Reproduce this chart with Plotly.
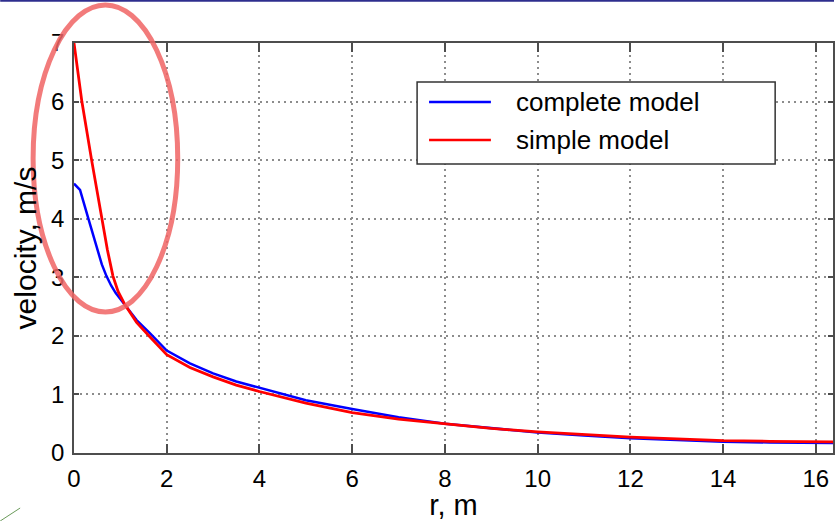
import plotly.graph_objects as go

# complete model (blue)
r_complete = [0, 0.05, 0.13, 0.31, 0.49, 0.6, 0.7, 0.8, 0.9, 1.1, 1.35, 1.63, 2, 2.5, 3, 3.5, 4, 5, 6, 7, 8, 9, 10, 11, 12, 13, 14, 15, 16, 16.4]
v_complete = [4.6, 4.56, 4.49, 4.0, 3.49, 3.22, 3.02, 2.86, 2.73, 2.53, 2.27, 2.05, 1.75, 1.53, 1.36, 1.22, 1.11, 0.9, 0.75, 0.61, 0.5, 0.42, 0.35, 0.3, 0.25, 0.22, 0.19, 0.18, 0.17, 0.17]

# simple model (red)
r_simple = [0, 0.17, 0.38, 0.6, 0.72, 0.84, 0.95, 1.1, 1.35, 1.63, 2, 2.5, 3, 3.5, 4, 5, 6, 7, 8, 9, 10, 11, 12, 13, 14, 15, 16, 16.4]
v_simple = [7.0, 6.0, 5.0, 4.0, 3.47, 3.02, 2.76, 2.53, 2.23, 1.99, 1.68, 1.46, 1.3, 1.16, 1.05, 0.85, 0.69, 0.58, 0.5, 0.42, 0.36, 0.31, 0.27, 0.24, 0.21, 0.2, 0.19, 0.19]

x_ticks = [0, 2, 4, 6, 8, 10, 12, 14, 16]
y_ticks = [0, 1, 2, 3, 4, 5, 6, 7]
legend_labels = ["complete model", "simple model"]
colors = ["#0000ff", "#ff0000"]

FONT = "Liberation Sans, Arial, sans-serif"

fig = go.Figure()
fig.add_trace(go.Scatter(x=r_complete, y=v_complete, mode="lines",
                         line=dict(color=colors[0], width=2.5),
                         name=legend_labels[0], showlegend=False))
fig.add_trace(go.Scatter(x=r_simple, y=v_simple, mode="lines",
                         line=dict(color=colors[1], width=2.8),
                         name=legend_labels[1], showlegend=False))

axis_common = dict(showline=True, mirror="ticks", linecolor="#4d4d4d", linewidth=1.5,
                   ticks="inside", tickcolor="#4d4d4d", tickwidth=1.5,
                   showgrid=True, gridcolor="#8c8c8c", griddash="2px,4px", gridwidth=1.5,
                   zeroline=False, tickfont=dict(family=FONT, size=24, color="black"),
                   ticklabelstandoff=3)

fig.update_xaxes(range=[0, 16.37], tickvals=x_ticks, ticklen=9,
                 title=dict(text="r, m", font=dict(family=FONT, size=29, color="black"), standoff=6),
                 **axis_common)
fig.update_yaxes(range=[0, 7], tickvals=y_ticks, ticklen=5,
                 title=dict(text="velocity, m/s", font=dict(family=FONT, size=30, color="black"), standoff=6),
                 **axis_common)

# custom legend (box, line samples, labels) in paper coordinates
pw, ph = 761.0, 410.0
def px(xp):
    return (xp - 74) / pw
def py(yp):
    return (453 - yp) / ph

shapes = [
    dict(type="rect", xref="paper", yref="paper", x0=px(418), x1=px(777), y0=py(164), y1=py(82),
         line=dict(color="#333333", width=1.5), fillcolor="white", layer="above"),
]
legend_rows = [102, 140]
for i, lab in enumerate(legend_labels):
    shapes.append(dict(type="line", xref="paper", yref="paper", x0=px(430), x1=px(492),
                       y0=py(legend_rows[i]), y1=py(legend_rows[i]),
                       line=dict(color=colors[i], width=2.5), layer="above"))
    fig.add_annotation(xref="paper", yref="paper", x=px(515), y=py(legend_rows[i]),
                       text=lab, showarrow=False, xanchor="left", yanchor="middle",
                       font=dict(family=FONT, size=26, color="black"))

# highlight ellipse
shapes.append(dict(type="circle", xref="paper", yref="paper", x0=px(33), x1=px(178), y0=py(312), y1=py(5),
                   line=dict(color="rgba(240,100,100,0.85)", width=5), layer="above"))
# slide decorations
shapes.append(dict(type="line", xref="paper", yref="paper", x0=px(0), x1=px(836), y0=py(0.8), y1=py(0.8),
                   line=dict(color="#2e2e8e", width=2)))
shapes.append(dict(type="line", xref="paper", yref="paper", x0=px(0), x1=px(20), y0=py(521), y1=py(508),
                   line=dict(color="#6a9a5a", width=1)))

fig.update_layout(width=836, height=521, margin=dict(l=74, r=1, t=43, b=68),
                  paper_bgcolor="white", plot_bgcolor="white", shapes=shapes,
                  font=dict(family=FONT))

fig.write_html("out.html")
